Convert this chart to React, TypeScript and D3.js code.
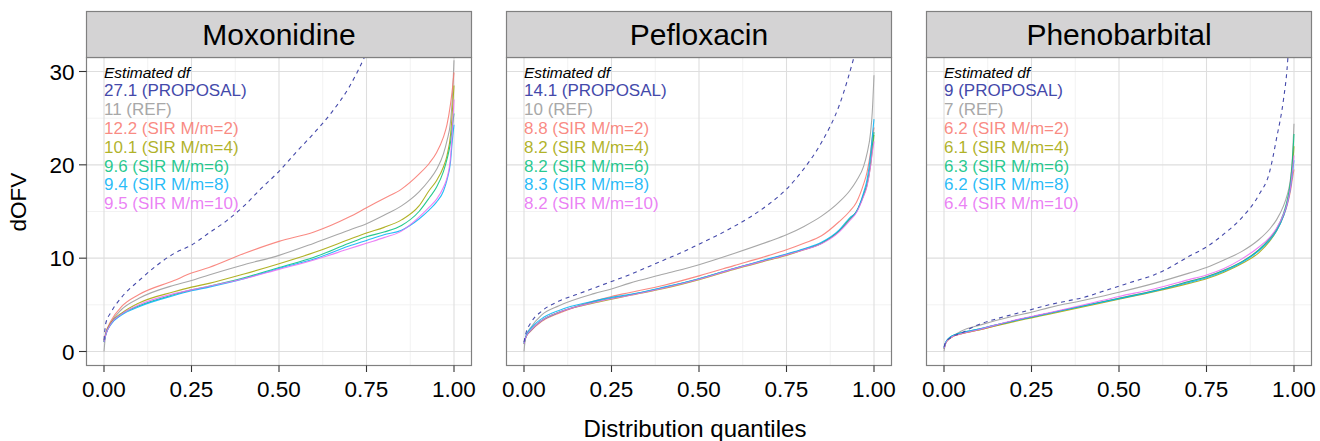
import React from "react";
import * as d3 from "d3";

// ---------- data ----------
const PANELS = ["Moxonidine", "Pefloxacin", "Phenobarbital"];
const SERIES = ["PROPOSAL", "REF", "SIR M/m=2", "SIR M/m=4", "SIR M/m=6", "SIR M/m=8", "SIR M/m=10"];
const COLORS = ["#4449AA", "#A8A8A8", "#F8766D", "#A3A500", "#00BF7D", "#00B0F6", "#E76BF3"];

const DF_MOX = ["27.1", "11", "12.2", "10.1", "9.6", "9.4", "9.5"];
const DF_PEF = ["14.1", "10", "8.8", "8.2", "8.2", "8.3", "8.2"];
const DF_PHE = ["9", "7", "6.2", "6.1", "6.3", "6.2", "6.4"];

// quantile grid for REF and SIR curves
const QUANT = [0, 0.005, 0.02, 0.05, 0.1, 0.2, 0.25, 0.3, 0.4, 0.5, 0.6, 0.7, 0.75, 0.8, 0.85, 0.9, 0.93, 0.95, 0.97, 0.98, 0.99, 0.995, 1];

// Moxonidine
const MOX_PROP_Q = [0, 0.005, 0.02, 0.05, 0.1, 0.15, 0.2, 0.25, 0.3, 0.35, 0.4, 0.45, 0.5, 0.55, 0.6, 0.65, 0.7, 0.75, 0.8];
const MOX_PROP = [1.2, 3.0, 4.2, 5.8, 7.6, 9.2, 10.5, 11.4, 12.7, 14.0, 15.6, 17.5, 19.3, 21.4, 23.4, 25.6, 28.3, 32.0, 36.5];
const MOX_REF = [0, 1.8, 3.1, 4.5, 5.7, 7.1, 7.6, 8.2, 9.3, 10.3, 11.6, 13.0, 13.7, 14.6, 15.6, 17.1, 18.4, 19.5, 21.2, 22.6, 24.6, 27.0, 31.2];
const MOX_SIR2 = [1.2, 2.0, 3.3, 4.8, 6.1, 7.6, 8.4, 9.0, 10.5, 11.8, 12.8, 14.4, 15.4, 16.4, 17.4, 19.0, 20.2, 21.3, 23.0, 24.3, 26.5, 28.0, 29.9];
const MOX_SIR4 = [1.0, 1.9, 3.1, 4.1, 5.2, 6.4, 6.9, 7.3, 8.3, 9.4, 10.6, 12.0, 12.7, 13.3, 14.1, 15.6, 17.3, 18.3, 19.8, 21.0, 23.2, 25.5, 28.5];
const MOX_SIR6 = [1.0, 1.8, 3.0, 4.0, 4.9, 6.1, 6.6, 7.0, 7.9, 9.0, 10.1, 11.6, 12.3, 12.8, 13.5, 15.0, 16.5, 17.6, 19.3, 20.6, 22.4, 24.0, 25.5];
const MOX_SIR8 = [1.0, 1.8, 2.9, 3.9, 4.8, 6.0, 6.5, 6.9, 7.8, 8.9, 9.9, 11.3, 11.9, 12.5, 13.0, 14.2, 15.2, 16.0, 17.2, 18.4, 20.3, 22.5, 24.3];
const MOX_SIR10 = [1.0, 1.8, 3.0, 4.0, 5.0, 6.2, 6.6, 7.0, 7.8, 8.8, 9.8, 11.0, 11.6, 12.2, 12.9, 14.4, 15.5, 16.3, 17.6, 18.6, 20.8, 23.5, 27.0];

// Pefloxacin
const PEF_PROP_Q = [0, 0.005, 0.02, 0.05, 0.1, 0.15, 0.2, 0.25, 0.3, 0.35, 0.4, 0.45, 0.5, 0.55, 0.6, 0.65, 0.7, 0.75, 0.8, 0.85, 0.9, 0.95];
const PEF_PROP = [1.0, 1.9, 3.1, 4.3, 5.4, 6.1, 6.8, 7.5, 8.2, 9.0, 9.8, 10.6, 11.5, 12.4, 13.4, 14.5, 15.8, 17.4, 19.6, 22.4, 26.3, 32.5];
const PEF_REF = [0, 1.6, 2.6, 3.9, 4.9, 6.2, 6.7, 7.3, 8.3, 9.3, 10.5, 11.8, 12.5, 13.4, 14.5, 16.0, 17.2, 18.3, 19.8, 21.2, 23.4, 25.6, 29.6];
const PEF_SIR2 = [1.0, 1.5, 2.2, 3.2, 4.1, 5.4, 5.9, 6.3, 7.1, 8.1, 9.2, 10.3, 10.9, 11.6, 12.4, 13.9, 15.0, 16.0, 17.9, 19.2, 21.3, 22.8, 24.0];
const PEF_SIR4 = [0.8, 1.5, 2.3, 3.3, 4.2, 5.2, 5.6, 6.0, 6.75, 7.7, 8.8, 9.8, 10.3, 10.9, 11.6, 12.9, 14.2, 15.0, 16.7, 17.8, 19.9, 21.5, 23.2];
const PEF_SIR6 = [0.8, 1.5, 2.3, 3.3, 4.2, 5.3, 5.7, 6.05, 6.85, 7.8, 8.9, 9.9, 10.4, 10.95, 11.6, 12.9, 14.1, 15.0, 16.8, 18.0, 20.2, 22.0, 23.5];
const PEF_SIR8 = [0.9, 1.6, 2.5, 3.5, 4.4, 5.4, 5.8, 6.1, 6.9, 7.8, 8.9, 9.95, 10.45, 11.0, 11.7, 13.0, 14.3, 15.0, 17.0, 18.4, 21.0, 23.0, 24.9];
const PEF_SIR10 = [0.8, 1.5, 2.3, 3.3, 4.2, 5.25, 5.65, 6.0, 6.8, 7.75, 8.85, 9.85, 10.35, 10.9, 11.55, 12.8, 14.0, 14.9, 16.6, 17.7, 19.8, 21.3, 22.5];

// Phenobarbital
const PHE_PROP_Q = [0, 0.005, 0.02, 0.05, 0.1, 0.15, 0.2, 0.25, 0.3, 0.35, 0.4, 0.45, 0.5, 0.55, 0.6, 0.65, 0.7, 0.75, 0.8, 0.85, 0.9, 0.93, 0.95, 0.97, 0.98, 0.99];
const PHE_PROP = [0.5, 1.0, 1.5, 2.0, 2.9, 3.5, 4.0, 4.5, 5.0, 5.4, 5.8, 6.4, 7.0, 7.6, 8.2, 9.1, 10.2, 11.2, 12.6, 14.3, 16.8, 19.2, 22.8, 27.0, 30.2, 36.0];
const PHE_REF = [0, 0.9, 1.5, 2.2, 2.8, 3.8, 4.2, 4.7, 5.5, 6.35, 7.3, 8.4, 9.0, 9.8, 10.7, 12.0, 13.1, 14.1, 15.6, 16.7, 18.5, 20.5, 24.4];
const PHE_SIR2 = [0.3, 0.9, 1.5, 1.9, 2.3, 3.3, 3.7, 4.1, 4.9, 5.7, 6.5, 7.5, 8.0, 8.7, 9.6, 10.9, 12.0, 13.0, 14.5, 15.6, 17.2, 18.4, 19.5];
const PHE_SIR4 = [0.3, 0.9, 1.5, 1.9, 2.3, 3.2, 3.6, 4.0, 4.8, 5.6, 6.4, 7.3, 7.8, 8.5, 9.4, 10.6, 11.8, 12.9, 14.6, 15.9, 17.8, 19.5, 22.0];
const PHE_SIR6 = [0.3, 1.0, 1.6, 2.0, 2.4, 3.3, 3.7, 4.1, 4.9, 5.7, 6.5, 7.5, 8.0, 8.7, 9.6, 10.9, 12.1, 13.1, 14.8, 16.1, 18.2, 20.2, 23.3];
const PHE_SIR8 = [0.4, 1.0, 1.6, 2.0, 2.4, 3.3, 3.7, 4.1, 4.9, 5.65, 6.45, 7.4, 7.9, 8.6, 9.5, 10.8, 11.9, 12.9, 14.5, 15.7, 17.5, 18.9, 20.5];
const PHE_SIR10 = [0.3, 0.9, 1.5, 1.9, 2.35, 3.35, 3.75, 4.15, 5.0, 5.9, 6.7, 7.7, 8.2, 8.9, 9.9, 11.2, 12.2, 13.2, 14.7, 15.8, 17.6, 19.2, 21.0];

const DATA = [
  { df: DF_MOX, propQ: MOX_PROP_Q, prop: MOX_PROP, curves: [MOX_REF, MOX_SIR2, MOX_SIR4, MOX_SIR6, MOX_SIR8, MOX_SIR10] },
  { df: DF_PEF, propQ: PEF_PROP_Q, prop: PEF_PROP, curves: [PEF_REF, PEF_SIR2, PEF_SIR4, PEF_SIR6, PEF_SIR8, PEF_SIR10] },
  { df: DF_PHE, propQ: PHE_PROP_Q, prop: PHE_PROP, curves: [PHE_REF, PHE_SIR2, PHE_SIR4, PHE_SIR6, PHE_SIR8, PHE_SIR10] },
];

const X_TICKS = [0, 0.25, 0.5, 0.75, 1];
const X_MINOR = [0.125, 0.375, 0.625, 0.875];
const Y_TICKS = [0, 10, 20, 30];
const Y_MINOR = [5, 15, 25];

// ---------- layout ----------
const W = 1320;
const H = 441;
const PANEL_X = [86.5, 506.5, 926.5];
const PANEL_W = 385;
const STRIP_TOP = 11.5;
const PANEL_TOP = 57.5;
const PANEL_BOTTOM = 365.5;
const FONT = "'Liberation Sans', Arial, Helvetica, sans-serif";

const yScale = d3.scaleLinear().domain([-1.5, 31.5]).range([PANEL_BOTTOM, PANEL_TOP]);

function Panel({ idx }: { idx: number }) {
  const x0 = PANEL_X[idx];
  const xScale = d3.scaleLinear().domain([-0.05, 1.05]).range([x0, x0 + PANEL_W]);
  const d = DATA[idx];
  const line = d3
    .line<[number, number]>()
    .x((p) => xScale(p[0]))
    .y((p) => yScale(p[1]))
    .curve(d3.curveMonotoneX);
  const clipId = `clip-${idx}`;
  const legendX = xScale(0);
  return (
    <g>
      <defs>
        <clipPath id={clipId}>
          <rect x={x0} y={PANEL_TOP} width={PANEL_W} height={PANEL_BOTTOM - PANEL_TOP} />
        </clipPath>
      </defs>
      <rect x={x0} y={PANEL_TOP} width={PANEL_W} height={PANEL_BOTTOM - PANEL_TOP} fill="#fff" />
      {Y_MINOR.map((v) => (
        <line key={"ym" + v} x1={x0} x2={x0 + PANEL_W} y1={yScale(v)} y2={yScale(v)} stroke="#f2f2f2" strokeWidth={1} />
      ))}
      {X_MINOR.map((v) => (
        <line key={"xm" + v} x1={xScale(v)} x2={xScale(v)} y1={PANEL_TOP} y2={PANEL_BOTTOM} stroke="#f2f2f2" strokeWidth={1} />
      ))}
      {Y_TICKS.map((v) => (
        <line key={"yM" + v} x1={x0} x2={x0 + PANEL_W} y1={yScale(v)} y2={yScale(v)} stroke="#dedede" strokeWidth={1.1} />
      ))}
      {X_TICKS.map((v) => (
        <line key={"xM" + v} x1={xScale(v)} x2={xScale(v)} y1={PANEL_TOP} y2={PANEL_BOTTOM} stroke="#dedede" strokeWidth={1.1} />
      ))}
      <g clipPath={`url(#${clipId})`}>
        {d.curves.map((c, i) => (
          <path
            key={i}
            d={line(QUANT.map((q, k) => [q, c[k]]) as [number, number][]) || ""}
            fill="none"
            stroke={COLORS[i + 1]}
            strokeOpacity={i === 0 ? 1 : 0.85}
            strokeWidth={1.1}
          />
        ))}
        <path
          d={line(d.propQ.map((q, k) => [q, d.prop[k]]) as [number, number][]) || ""}
          fill="none"
          stroke={COLORS[0]}
          strokeWidth={1.1}
          strokeDasharray="4,4"
        />
      </g>
      {/* annotation */}
      <text x={legendX} y={PANEL_TOP + 20} fontFamily={FONT} fontSize={15.5} fontStyle="italic" fill="#000">
        Estimated df
      </text>
      {SERIES.map((s, i) => (
        <text
          key={s}
          x={legendX}
          y={PANEL_TOP + 38.6 + i * 18.85}
          fontFamily={FONT}
          fontSize={17}
          fill={COLORS[i]}
          fillOpacity={i < 2 ? 1 : 0.85}
        >
          {`${d.df[i]} (${s})`}
        </text>
      ))}
      <rect x={x0} y={PANEL_TOP} width={PANEL_W} height={PANEL_BOTTOM - PANEL_TOP} fill="none" stroke="#808080" strokeWidth={1.2} />
      {/* strip */}
      <rect x={x0} y={STRIP_TOP} width={PANEL_W} height={PANEL_TOP - STRIP_TOP} fill="#d4d3d4" stroke="#808080" strokeWidth={1.2} />
      <text x={x0 + PANEL_W / 2} y={45.3} textAnchor="middle" fontFamily={FONT} fontSize={30} fill="#000">
        {PANELS[idx]}
      </text>
      {/* x axis */}
      {X_TICKS.map((v) => (
        <g key={"xt" + v}>
          <line x1={xScale(v)} x2={xScale(v)} y1={PANEL_BOTTOM} y2={PANEL_BOTTOM + 6.5} stroke="#333" strokeWidth={1.1} />
          <text x={xScale(v)} y={396.5} textAnchor="middle" fontFamily={FONT} fontSize={22.5} fill="#000">
            {v.toFixed(2)}
          </text>
        </g>
      ))}
      {idx === 0 &&
        Y_TICKS.map((v) => (
          <g key={"yt" + v}>
            <line x1={x0 - 7.5} x2={x0} y1={yScale(v)} y2={yScale(v)} stroke="#333" strokeWidth={1.1} />
            <text x={x0 - 12} y={yScale(v) + 8.2} textAnchor="end" fontFamily={FONT} fontSize={22.5} fill="#000">
              {v}
            </text>
          </g>
        ))}
    </g>
  );
}

export default function App() {
  return (
    <svg width={W} height={H} style={{ position: "absolute", left: 0, top: 0, background: "#fff" }}>
      <rect x={0} y={0} width={W} height={H} fill="#fff" />
      {PANELS.map((_, i) => (
        <Panel key={i} idx={i} />
      ))}
      <text x={695} y={437} textAnchor="middle" fontFamily={FONT} fontSize={24} fill="#000">
        Distribution quantiles
      </text>
      <text
        transform="translate(25.5,202) rotate(-90)"
        textAnchor="middle"
        fontFamily={FONT}
        fontSize={22.5}
        fill="#000"
      >
        dOFV
      </text>
    </svg>
  );
}
